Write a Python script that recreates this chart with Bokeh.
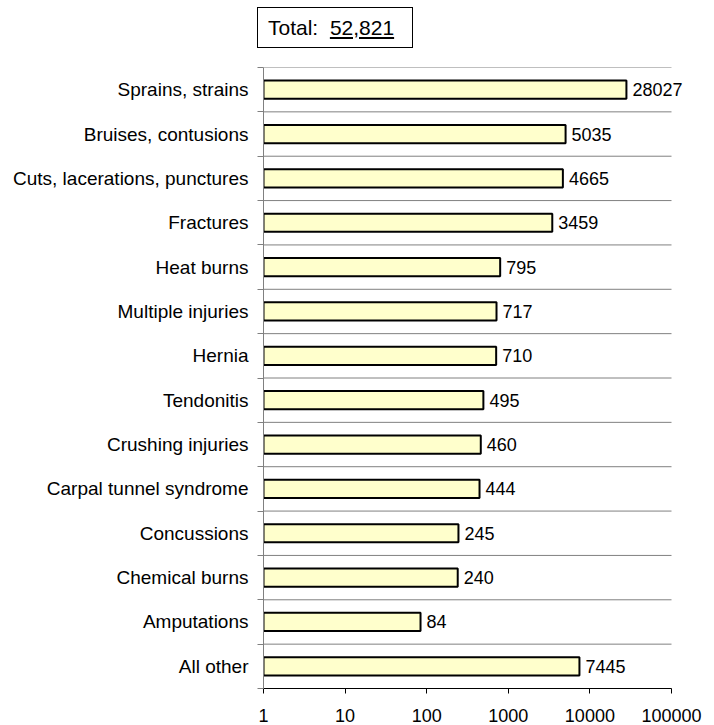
from bokeh.plotting import figure
from bokeh.models import FixedTicker, NumeralTickFormatter, Div, ColumnDataSource
from bokeh.layouts import column
from bokeh.core.properties import value
from bokeh.embed import file_html
from bokeh.resources import INLINE

categories = ["Sprains, strains", "Bruises, contusions", "Cuts, lacerations, punctures",
              "Fractures", "Heat burns", "Multiple injuries", "Hernia", "Tendonitis",
              "Crushing injuries", "Carpal tunnel syndrome", "Concussions",
              "Chemical burns", "Amputations", "All other"]
values = [28027, 5035, 4665, 3459, 795, 717, 710, 495, 460, 444, 245, 240, 84, 7445]
total_text = "52,821"
x_ticks = [1, 10, 100, 1000, 10000, 100000]

FONT = "Liberation Sans"
n = len(categories)
ypos = [n - 1 - i for i in range(n)]
bounds_y = [k - 0.5 for k in range(n + 1)]
src = ColumnDataSource(dict(y=ypos, v=values, lab=[str(v) for v in values], cat=categories))

x_lo, x_hi = x_ticks[0], x_ticks[-1]
decade_px = 81.6
extra_px = 20
x_end = 10 ** (5 + extra_px / decade_px)

p = figure(x_axis_type="log", x_range=(x_lo, x_end), y_range=(-0.5, n - 0.5),
           frame_width=428, frame_height=621,
           min_border_left=263, min_border_right=15, min_border_top=19, min_border_bottom=30,
           output_backend="svg", toolbar_location=None,
           background_fill_color="white", border_fill_color="white")
p.outline_line_color = None

# category separator lines (span the axis extent 1..100000)
p.segment(x0=[x_lo] * len(bounds_y), x1=[x_hi] * len(bounds_y), y0=bounds_y, y1=bounds_y,
          line_color="#808080", line_width=1)

p.hbar(y="y", left=1, right="v", height=0.41, source=src,
       fill_color="#FFFFCC", line_color="black", line_width=2)
p.text(x="v", y="y", text="lab", source=src, x_offset=6,
       text_baseline="middle", text_align="left", text_font_size="18px",
       text_font=value(FONT), text_color="black")

# x axis
p.xaxis.ticker = FixedTicker(ticks=x_ticks)
p.xaxis.bounds = (x_lo, x_hi)
p.xaxis.formatter = NumeralTickFormatter(format="0")
p.xaxis.axis_line_color = "black"
p.xaxis.major_tick_line_color = "black"
p.xaxis.major_tick_out = 5
p.xaxis.major_tick_in = 0
p.xaxis.minor_tick_line_color = None
p.xaxis.major_label_text_font = FONT
p.xaxis.major_label_text_font_size = "18px"
p.xaxis.major_label_text_color = "black"
p.xaxis.major_label_standoff = 15
p.xgrid.visible = False
p.ygrid.visible = False

# y axis
yt = FixedTicker(ticks=ypos, minor_ticks=bounds_y)
p.yaxis.ticker = yt
p.yaxis.major_label_overrides = {y: c for y, c in zip(ypos, categories)}
p.yaxis.axis_line_color = "#808080"
p.yaxis.major_tick_line_color = None
p.yaxis.major_tick_out = 0
p.yaxis.major_tick_in = 0
p.yaxis.minor_tick_line_color = "#808080"
p.yaxis.minor_tick_out = 6
p.yaxis.minor_tick_in = 0
p.yaxis.major_label_text_font = FONT
p.yaxis.major_label_text_font_size = "19px"
p.yaxis.major_label_text_color = "black"
p.yaxis.major_label_standoff = 9

box_html = (
    '<div style="box-sizing:border-box;width:156px;height:41px;border:1px solid #000;'
    "font-family:'Liberation Sans',Arial,sans-serif;font-size:21px;line-height:39px;"
    'padding-left:10px;color:#000;white-space:nowrap;background:#fff;">'
    'Total:&nbsp; <u>' + total_text + '</u></div>'
)
div = Div(text=box_html, width=156, height=41, margin=(7, 0, 0, 257))

layout = column(div, p, spacing=0)
open("out.html", "w").write(file_html(layout, INLINE))
